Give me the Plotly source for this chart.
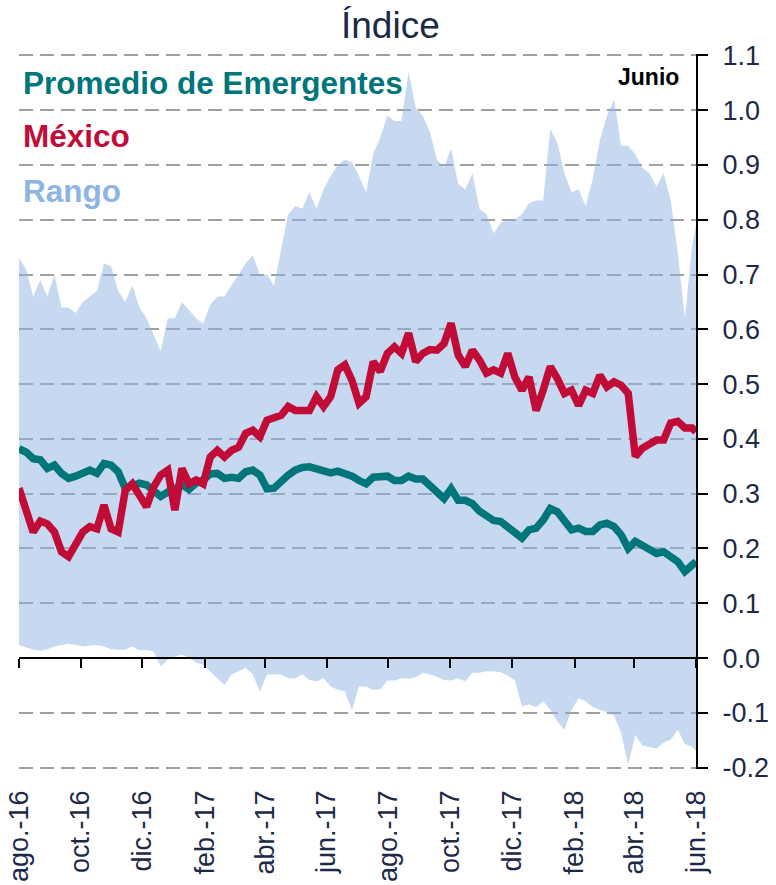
import pandas as pd
import plotly.graph_objects as go

# Weekly observations, August 2016 - June 2018
dates = [d.strftime("%Y-%m-%d") for d in pd.date_range("2016-08-01", periods=96, freq="7D")] + ["2018-06-01"]

rango_max = [0.73, 0.71, 0.66, 0.69, 0.66, 0.70, 0.64, 0.64, 0.63, 0.65,
             0.66, 0.67, 0.72, 0.715, 0.67, 0.65, 0.68, 0.64, 0.62, 0.59,
             0.56, 0.62, 0.62, 0.65, 0.635, 0.62, 0.61, 0.645, 0.66, 0.66,
             0.68, 0.70, 0.72, 0.735, 0.70, 0.70, 0.68, 0.745, 0.81, 0.825,
             0.82, 0.85, 0.82, 0.855, 0.88, 0.90, 0.91, 0.905, 0.88, 0.85,
             0.92, 0.95, 0.99, 0.98, 0.98, 1.07, 1.005, 0.99, 0.96, 0.91,
             0.895, 0.93, 0.865, 0.855, 0.885, 0.82, 0.81, 0.775, 0.795, 0.80,
             0.80, 0.81, 0.83, 0.835, 0.835, 0.965, 0.94, 0.885, 0.85, 0.855,
             0.825, 0.875, 0.945, 0.99, 1.02, 0.935, 0.935, 0.92, 0.895, 0.885,
             0.86, 0.885, 0.835, 0.74, 0.62, 0.75, 0.79]

rango_min = [0.024, 0.02, 0.015, 0.014, 0.016, 0.021, 0.024, 0.026, 0.024, 0.021,
             0.023, 0.024, 0.021, 0.016, 0.015, 0.015, 0.021, 0.014, 0.015, 0.012,
             -0.015, -0.003, 0.003, 0.006, 0.0, -0.008, -0.012, -0.024, -0.037, -0.049,
             -0.03, -0.024, -0.018, -0.03, -0.061, -0.03, -0.03, -0.03, -0.037, -0.037,
             -0.03, -0.04, -0.043, -0.037, -0.052, -0.058, -0.061, -0.095, -0.052, -0.052,
             -0.058, -0.057, -0.041, -0.041, -0.037, -0.038, -0.035, -0.027, -0.03, -0.034,
             -0.04, -0.041, -0.037, -0.043, -0.027, -0.027, -0.024, -0.024, -0.026, -0.032,
             -0.041, -0.088, -0.085, -0.09, -0.079, -0.095, -0.116, -0.131, -0.095, -0.073,
             -0.079, -0.09, -0.095, -0.098, -0.105, -0.137, -0.195, -0.14, -0.16, -0.163,
             -0.165, -0.154, -0.149, -0.131, -0.157, -0.162, -0.169]

mexico = [0.31, 0.264, 0.23, 0.25, 0.245, 0.23, 0.194, 0.185, 0.206, 0.23,
          0.24, 0.236, 0.279, 0.236, 0.23, 0.306, 0.318, 0.297, 0.276, 0.312,
          0.334, 0.343, 0.27, 0.346, 0.318, 0.325, 0.318, 0.367, 0.379, 0.367,
          0.379, 0.385, 0.41, 0.416, 0.404, 0.434, 0.44, 0.443, 0.459, 0.452,
          0.452, 0.452, 0.477, 0.459, 0.477, 0.526, 0.535, 0.507, 0.465, 0.477,
          0.541, 0.523, 0.556, 0.568, 0.556, 0.593, 0.541, 0.556, 0.563, 0.562,
          0.574, 0.611, 0.553, 0.532, 0.562, 0.544, 0.52, 0.526, 0.52, 0.556,
          0.513, 0.489, 0.513, 0.452, 0.489, 0.532, 0.51, 0.483, 0.489, 0.461,
          0.489, 0.483, 0.516, 0.495, 0.504, 0.498, 0.483, 0.368, 0.383, 0.39,
          0.398, 0.398, 0.429, 0.432, 0.42, 0.42, 0.413]

emergentes = [0.382, 0.376, 0.364, 0.362, 0.346, 0.352, 0.337, 0.328, 0.332, 0.337,
              0.343, 0.337, 0.355, 0.352, 0.34, 0.31, 0.316, 0.319, 0.316, 0.306,
              0.295, 0.303, 0.31, 0.316, 0.308, 0.319, 0.325, 0.336, 0.337, 0.328,
              0.33, 0.328, 0.34, 0.343, 0.334, 0.309, 0.31, 0.324, 0.334, 0.343,
              0.348, 0.349, 0.346, 0.343, 0.338, 0.341, 0.337, 0.332, 0.324, 0.318,
              0.33, 0.332, 0.332, 0.324, 0.324, 0.332, 0.327, 0.327, 0.315, 0.303,
              0.291, 0.309, 0.288, 0.288, 0.282, 0.268, 0.26, 0.251, 0.249, 0.239,
              0.231, 0.219, 0.234, 0.237, 0.252, 0.273, 0.267, 0.249, 0.234, 0.237,
              0.231, 0.231, 0.243, 0.246, 0.24, 0.225, 0.2, 0.213, 0.206, 0.2,
              0.191, 0.194, 0.185, 0.176, 0.158, 0.167, 0.176]

tick_dates = ["2016-08-01", "2016-10-01", "2016-12-01", "2017-02-01", "2017-04-01", "2017-06-01",
              "2017-08-01", "2017-10-01", "2017-12-01", "2018-02-01", "2018-04-01", "2018-06-01"]
tick_text = ["ago.-16", "oct.-16", "dic.-16", "feb.-17", "abr.-17", "jun.-17",
             "ago.-17", "oct.-17", "dic.-17", "feb.-18", "abr.-18", "jun.-18"]

y_ticks = [-0.2, -0.1, 0.0, 0.1, 0.2, 0.3, 0.4, 0.5, 0.6, 0.7, 0.8, 0.9, 1.0, 1.1]
y_tick_text = [f"{v:.1f}" for v in y_ticks]

FONT = "Liberation Sans"
NAVY = "#1C2A47"
TEAL = "#00767A"
RED = "#C00C36"
BAND = "rgba(141,180,226,0.5)"
BAND_TEXT = "#8DB4E2"
Y_MIN, Y_MAX = -0.2, 1.1
PAD = 0.0025  # keeps the outermost dashed gridlines visible

W, H = 776, 885
L, R, T, B = 19, 80, 54, 116

fig = go.Figure()

# Range band between minimum and maximum
fig.add_trace(go.Scatter(x=dates, y=rango_min, mode="lines", line=dict(width=0),
                         showlegend=False, hoverinfo="skip"))
fig.add_trace(go.Scatter(x=dates, y=rango_max, mode="lines", line=dict(width=0),
                         fill="tonexty", fillcolor=BAND, showlegend=False, hoverinfo="skip"))

fig.add_trace(go.Scatter(x=dates, y=emergentes, mode="lines",
                         line=dict(color=TEAL, width=7.5), showlegend=False))
fig.add_trace(go.Scatter(x=dates, y=mexico, mode="lines",
                         line=dict(color=RED, width=7.5), showlegend=False))

# Helper trace so the zero-crossing date axis gets drawn
fig.add_trace(go.Scatter(x=[dates[0]], y=[None], xaxis="x2", yaxis="y",
                         showlegend=False, hoverinfo="skip"))

y_lo, y_hi = Y_MIN - PAD, Y_MAX + PAD

fig.update_layout(
    width=W, height=H,
    margin=dict(l=L, r=R, t=T, b=B, autoexpand=False),
    paper_bgcolor="white", plot_bgcolor="white",
    font=dict(family=FONT, color=NAVY),
    showlegend=False,
    xaxis=dict(type="date", range=[dates[0], "2018-06-01"], automargin=False,
               tickmode="array", tickvals=tick_dates, ticktext=tick_text,
               tickangle=-90, tickfont=dict(size=27, color=NAVY),
               showgrid=False, showline=False, ticks="", zeroline=False,
               ticklabelstandoff=15),
    xaxis2=dict(type="date", range=[dates[0], "2018-06-01"], overlaying="x",
                anchor="free", position=(0 - y_lo) / (y_hi - y_lo),
                tickmode="array", tickvals=tick_dates, showticklabels=False,
                ticks="outside", ticklen=9, tickwidth=2, tickcolor="black",
                showline=True, linecolor="black", linewidth=2,
                showgrid=False, zeroline=False, layer="above traces"),
    yaxis=dict(range=[y_lo, y_hi], side="right", automargin=False,
               tickmode="array", tickvals=y_ticks, ticktext=y_tick_text,
               tickfont=dict(size=27, color=NAVY), ticklabelstandoff=9,
               showline=True, linecolor="black", linewidth=2,
               ticks="outside", ticklen=10, tickwidth=2, tickcolor="black",
               showgrid=True, gridcolor="#A0A0A0", gridwidth=2, griddash="14px,7px",
               zeroline=False),
)

def px_to_paper_y(py):
    return (H - B - py) / (H - B - T)

def px_to_paper_x(px):
    return (px - L) / (W - L - R)

annotations = [
    dict(text="Índice", x=px_to_paper_x(390), y=px_to_paper_y(25), xanchor="center",
         yanchor="middle", font=dict(size=37, color=NAVY)),
    dict(text="<b>Promedio de Emergentes</b>", x=px_to_paper_x(21), y=px_to_paper_y(83),
         xanchor="left", yanchor="middle", font=dict(size=31.5, color=TEAL)),
    dict(text="<b>México</b>", x=px_to_paper_x(21), y=px_to_paper_y(136),
         xanchor="left", yanchor="middle", font=dict(size=31.5, color=RED)),
    dict(text="<b>Rango</b>", x=px_to_paper_x(21), y=px_to_paper_y(191),
         xanchor="left", yanchor="middle", font=dict(size=31.5, color=BAND_TEXT)),
    dict(text="<b>Junio</b>", x=px_to_paper_x(681), y=px_to_paper_y(77),
         xanchor="right", yanchor="middle", font=dict(size=23, color="black")),
]
for a in annotations:
    fig.add_annotation(xref="paper", yref="paper", showarrow=False, **a)

fig.write_html("out.html")
